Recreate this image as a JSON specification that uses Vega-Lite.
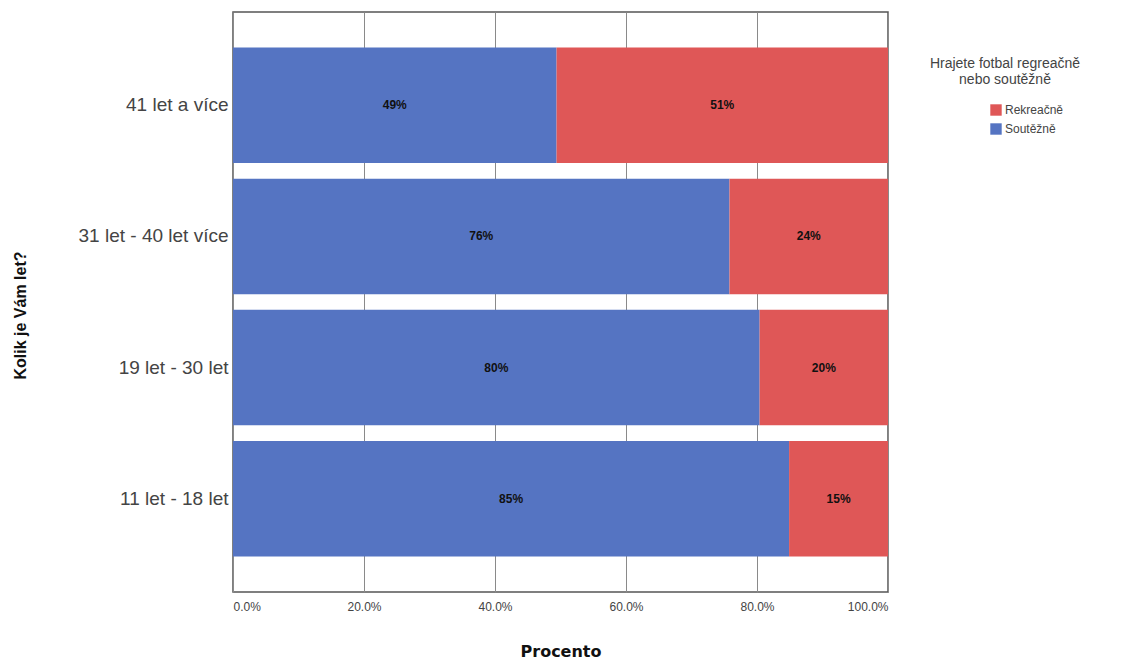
{
  "$schema": "https://vega.github.io/schema/vega-lite/v6.json",
  "width": 655,
  "height": 580,
  "autosize": "none",
  "padding": {"left": 233, "top": 12, "right": 242, "bottom": 69},
  "background": "white",
  "data": {
    "values": [
      {"vek": "41 let a více", "typ": "Soutěžně", "podil": 0.494},
      {"vek": "41 let a více", "typ": "Rekreačně", "podil": 0.506},
      {"vek": "31 let  - 40 let více", "typ": "Soutěžně", "podil": 0.758},
      {"vek": "31 let  - 40 let více", "typ": "Rekreačně", "podil": 0.242},
      {"vek": "19 let  -  30 let", "typ": "Soutěžně", "podil": 0.804},
      {"vek": "19 let  -  30 let", "typ": "Rekreačně", "podil": 0.196},
      {"vek": "11 let - 18 let", "typ": "Soutěžně", "podil": 0.849},
      {"vek": "11 let - 18 let", "typ": "Rekreačně", "podil": 0.151}
    ]
  },
  "transform": [
    {"stack": "podil", "groupby": ["vek"], "sort": [{"field": "typ", "order": "descending"}], "as": ["x0", "x1"]},
    {"calculate": "(datum.x0 + datum.x1) / 2", "as": "xm"}
  ],
  "encoding": {
    "y": {
      "field": "vek",
      "type": "nominal",
      "sort": ["41 let a více", "31 let  - 40 let více", "19 let  -  30 let", "11 let - 18 let"],
      "scale": {"paddingInner": 0.12, "paddingOuter": 0.27},
      "axis": {
        "title": "Kolik je Vám let?",
        "titleFont": "Liberation Sans",
        "titleFontSize": 16,
        "titleFontWeight": "bold",
        "titleColor": "#111",
        "titleX": -205,
        "titleY": 303,
        "labelFont": "Liberation Sans",
        "labelFontSize": 19,
        "labelColor": "#444",
        "labelPadding": 5,
        "ticks": false,
        "domain": false
      }
    }
  },
  "layer": [
    {
      "mark": {"type": "bar"},
      "encoding": {
        "x": {
          "field": "x0",
          "type": "quantitative",
          "scale": {"domain": [0, 1], "nice": false},
          "axis": {
            "title": "Procento",
            "titleFont": "DejaVu Sans",
            "titleFontSize": 16,
            "titleFontWeight": "bold",
            "titleColor": "#111",
            "titlePadding": 31,
            "values": [0, 0.2, 0.4, 0.6, 0.8, 1],
            "format": ".1%",
            "labelFont": "Liberation Sans",
            "labelFontSize": 12,
            "labelColor": "#444",
            "labelPadding": 9,
            "ticks": false,
            "domain": false,
            "grid": true,
            "gridColor": "#8a8a8a",
            "gridWidth": 1
          }
        },
        "x2": {"field": "x1"},
        "color": {
          "field": "typ",
          "type": "nominal",
          "scale": {"domain": ["Rekreačně", "Soutěžně"], "range": ["#df5757", "#5574c2"]},
          "legend": {
            "title": ["Hrajete fotbal regreačně", "nebo soutěžně"],
            "orient": "none",
            "legendX": 697,
            "legendY": 45,
            "titleFont": "Liberation Sans",
            "titleFontSize": 14,
            "titleFontWeight": "normal",
            "titleColor": "#444",
            "titleAlign": "center",
            "titleAnchor": "middle",
            "titlePadding": 17,
            "labelFont": "Liberation Sans",
            "labelFontSize": 12,
            "labelColor": "#444",
            "symbolType": "square",
            "symbolSize": 130,
            "symbolStrokeWidth": 0,
            "symbolOffset": 43,
            "labelOffset": 3,
            "rowPadding": 7
          }
        }
      }
    },
    {
      "mark": {"type": "text", "font": "Liberation Sans", "fontWeight": "bold", "fontSize": 12, "color": "#111"},
      "encoding": {
        "x": {"field": "xm", "type": "quantitative"},
        "text": {"field": "podil", "type": "quantitative", "format": ".0%"}
      }
    }
  ],
  "config": {
    "view": {"stroke": "#555", "strokeWidth": 1.5}
  }
}
